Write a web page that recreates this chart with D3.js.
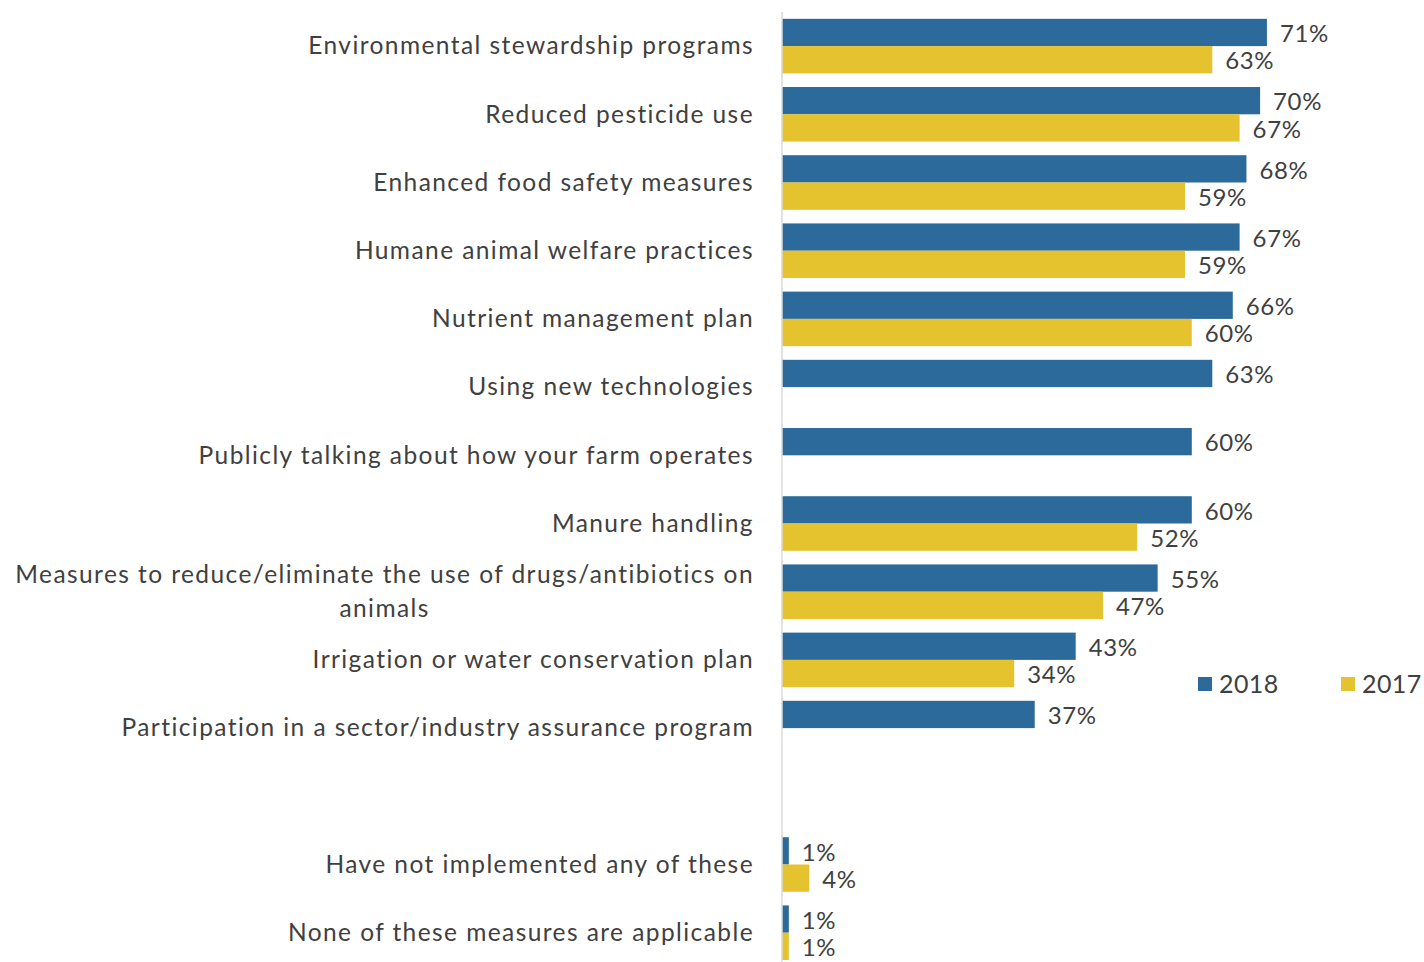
<!DOCTYPE html>
<html>
<head>
<meta charset="utf-8">
<script src="https://cdn.jsdelivr.net/npm/d3@7"></script>
<style>
  html, body { margin: 0; padding: 0; background: #fff; }
  svg { display: block; }
  text { font-family: Lato, "Open Sans", sans-serif; fill: #404040; }
</style>
</head>
<body>
<svg id="chart" width="1424" height="962"></svg>
<script>
// Practices implemented on the farm, share of respondents
const categories = [
  "Environmental stewardship programs",
  "Reduced pesticide use",
  "Enhanced food safety measures",
  "Humane animal welfare practices",
  "Nutrient management plan",
  "Using new technologies",
  "Publicly talking about how your farm operates",
  "Manure handling",
  "Measures to reduce/eliminate the use of drugs/antibiotics on|animals",
  "Irrigation or water conservation plan",
  "Participation in a sector/industry assurance program",
  "",
  "Have not implemented any of these",
  "None of these measures are applicable"
];
const values2018 = [71, 70, 68, 67, 66, 63, 60, 60, 55, 43, 37, null, 1, 1];
const values2017 = [63, 67, 59, 59, 60, null, null, 52, 47, 34, null, null, 4, 1];
const seriesNames = ["2018", "2017"];
const seriesColors = ["#2b6a9a", "#e5c32f"];

const rows = categories.map((c, i) => ({
  key: i, label: c, v: [values2018[i], values2017[i]]
}));

const svg = d3.select("#chart");
const axisX = 782;
const labelRight = 754;
const labelSize = 24.5;
const labelSpacing = 1.42;

const x = d3.scaleLinear().domain([0, 100]).range([axisX, axisX + 683]);
const y = d3.scaleBand().domain(rows.map(r => r.key))
  .range([12, 966.8]).paddingInner(0.2).paddingOuter(0.1);
const ySub = d3.scaleBand().domain([0, 1]).range([0, y.bandwidth()]);

// bars with value labels
const g = svg.append("g");
rows.forEach(r => {
  r.v.forEach((val, s) => {
    if (val == null) return;
    const y0 = y(r.key) + ySub(s);
    g.append("rect")
      .attr("x", x(0))
      .attr("y", y0)
      .attr("width", x(val) - x(0))
      .attr("height", ySub.bandwidth())
      .attr("fill", seriesColors[s]);
    g.append("text")
      .attr("x", x(val) + 13)
      .attr("y", y0 + ySub.bandwidth() / 2 + 1)
      .attr("dy", "0.36em")
      .attr("font-size", 24)
      .attr("letter-spacing", 0.6)
      .text(val + "%");
  });
});

// vertical axis line
svg.append("line")
  .attr("x1", axisX).attr("x2", axisX)
  .attr("y1", 12).attr("y2", 962)
  .attr("stroke", "#d9d9d9").attr("stroke-width", 1.5);

// category labels
const lg = svg.append("g");
function label(xp, yp, anchor, str) {
  return lg.append("text")
    .attr("x", xp)
    .attr("y", yp)
    .attr("dy", "0.36em")
    .attr("text-anchor", anchor)
    .attr("font-size", labelSize)
    .attr("letter-spacing", labelSpacing)
    .text(str);
}
rows.forEach(r => {
  if (!r.label) return;
  const lines = r.label.split("|");
  const cy = y(r.key) + y.bandwidth() / 2 - 0.5;
  if (lines.length === 1) {
    label(labelRight, cy, "end", lines[0]);
  } else {
    const t1 = label(labelRight, cy - 17, "end", lines[0]);
    const w1 = t1.node().getComputedTextLength();
    label(labelRight - w1 / 2, cy + 17, "middle", lines[1]);
  }
});

// legend
const legendX = [1198, 1341];
const legend = svg.append("g");
seriesNames.forEach((name, i) => {
  legend.append("rect")
    .attr("x", legendX[i]).attr("y", 677)
    .attr("width", 14).attr("height", 14)
    .attr("fill", seriesColors[i]);
  legend.append("text")
    .attr("x", legendX[i] + 21)
    .attr("y", 684)
    .attr("dy", "0.36em")
    .attr("font-size", 25)
    .attr("letter-spacing", 0.4)
    .text(name);
});
</script>
</body>
</html>
